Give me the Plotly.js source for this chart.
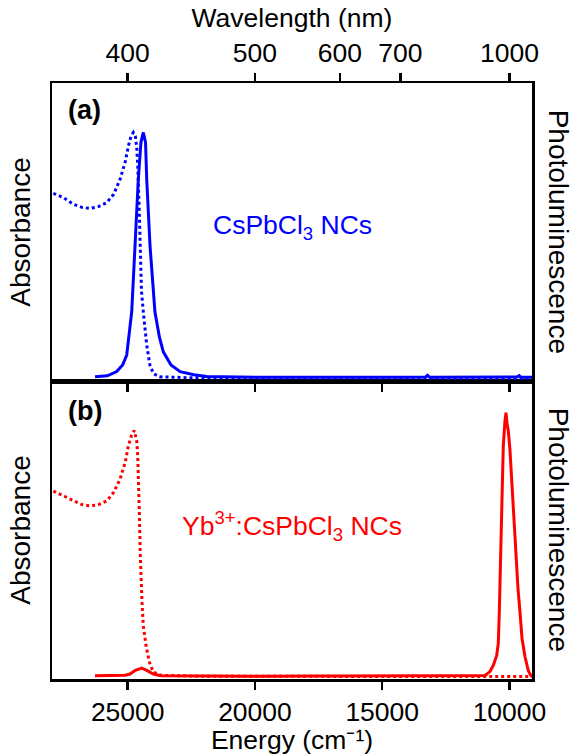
<!DOCTYPE html>
<html>
<head>
<meta charset="utf-8">
<script src="https://cdn.plot.ly/plotly-3.0.1.min.js"></script>
<style>html,body{margin:0;padding:0;background:#fff;}#chart{width:574px;height:755px;}</style>
</head>
<body>
<div id="chart"></div>
<script>
// ---- Data (energy in cm^-1, normalized intensities) ----
// (a) CsPbCl3 NCs – absorbance (dotted)
const absA_E = [27923, 27500, 27137, 26800, 26481, 26150, 25825, 25550, 25303, 25100, 24976, 24870, 24780, 24700, 24646, 24600, 24544, 24505, 24460, 24387, 24253, 24130, 23990, 23750, 22500, 9115];
const absA_V = [0.754, 0.735, 0.71, 0.697, 0.693, 0.70, 0.716, 0.75, 0.81, 0.88, 0.944, 0.985, 1.0, 0.985, 0.94, 0.85, 0.676, 0.48, 0.36, 0.274, 0.14, 0.06, 0.025, 0.012, 0.008, 0.006];
// (a) CsPbCl3 NCs – photoluminescence (solid)
const plA_E = [26285, 25800, 25432, 25200, 25039, 24843, 24713, 24584, 24480, 24387, 24300, 24253, 24124, 23930, 23750, 23601, 23300, 22941, 22400, 21896, 20000, 17000, 14000, 13300, 13220, 13140, 11000, 9700, 9620, 9540, 9115];
const plA_V = [0.012, 0.016, 0.033, 0.06, 0.1, 0.274, 0.542, 0.81, 0.96, 1.0, 0.96, 0.81, 0.542, 0.274, 0.17, 0.113, 0.06, 0.033, 0.02, 0.013, 0.01, 0.009, 0.01, 0.011, 0.018, 0.01, 0.009, 0.011, 0.017, 0.01, 0.01];
// (b) Yb3+:CsPbCl3 NCs – absorbance (dotted)
const absB_E = [27923, 27500, 27137, 26800, 26481, 26150, 25825, 25550, 25303, 25100, 24976, 24850, 24741, 24646, 24607, 24584, 24544, 24505, 24477, 24438, 24387, 24281, 24150, 23994, 23700, 22000, 9115];
const absB_V = [0.755, 0.735, 0.715, 0.70, 0.695, 0.70, 0.715, 0.75, 0.803, 0.87, 0.937, 0.98, 1.0, 0.957, 0.897, 0.83, 0.668, 0.493, 0.40, 0.305, 0.21, 0.13, 0.063, 0.023, 0.01, 0.006, 0.005];
// (b) Yb3+:CsPbCl3 NCs – photoluminescence (solid)
const plB_E = [26285, 25600, 25100, 24910, 24700, 24450, 24250, 23994, 23700, 20000, 15000, 11200, 10962, 10766, 10636, 10502, 10439, 10400, 10353, 10306, 10243, 10176, 10137, 10098, 10046, 9980, 9913, 9783, 9665, 9587, 9508, 9390, 9261, 9194, 9127];
const plB_V = [0.008, 0.008, 0.01, 0.015, 0.03, 0.039, 0.03, 0.015, 0.008, 0.006, 0.006, 0.006, 0.009, 0.025, 0.05, 0.09, 0.14, 0.265, 0.47, 0.668, 0.937, 1.04, 1.072, 1.03, 0.998, 0.92, 0.803, 0.534, 0.36, 0.265, 0.16, 0.085, 0.029, 0.015, 0.004];

// axis ticks
const energyTicks = [25000, 20000, 15000, 10000];
const wavelengthTicks = [400, 500, 600, 700, 1000];

const xRange = [27975, 9115];
const yRange = [-0.005, 1.2];
const BLUE = '#0000ff', RED = '#ff0000';
const FONT = 'Arial, "Liberation Sans", sans-serif';
const TXT = 26.5, TICK = 26.5, SIDE = 28;

const traces = [
  {x: absA_E, y: absA_V, xaxis: 'x3', yaxis: 'y2', mode: 'lines', line: {color: BLUE, width: 3, dash: '3px,3px'}, hoverinfo: 'skip'},
  {x: plA_E, y: plA_V, xaxis: 'x2', yaxis: 'y2', mode: 'lines', line: {color: BLUE, width: 3}, hoverinfo: 'skip'},
  {x: absB_E, y: absB_V, xaxis: 'x', yaxis: 'y', mode: 'lines', line: {color: RED, width: 3, dash: '3px,3px'}, hoverinfo: 'skip'},
  {x: plB_E, y: plB_V, xaxis: 'x', yaxis: 'y', mode: 'lines', line: {color: RED, width: 3}, hoverinfo: 'skip'}
];

const axLine = {showline: true, linecolor: '#000', linewidth: 2.5, showgrid: false, zeroline: false};
const tickStyle = {ticks: 'outside', ticklen: 8, tickwidth: 2.5, tickcolor: '#000'};

const layout = {
  width: 574, height: 755,
  margin: {l: 52, r: 42, t: 83, b: 76, pad: 0},
  paper_bgcolor: '#fff', plot_bgcolor: '#fff',
  showlegend: false,
  font: {family: FONT, size: TXT, color: '#000'},
  xaxis: Object.assign({}, axLine, tickStyle, {
    domain: [0, 1], anchor: 'y', range: xRange, mirror: true,
    tickvals: energyTicks, ticktext: energyTicks.map(String),
    tickfont: {size: TICK},
    title: {text: 'Energy (cm\u207B\u00B9)', font: {size: TXT}, standoff: 6}
  }),
  xaxis2: Object.assign({}, axLine, tickStyle, {
    domain: [0, 1], anchor: 'y2', range: xRange, mirror: true,
    tickvals: energyTicks, showticklabels: false
  }),
  xaxis3: Object.assign({}, axLine, tickStyle, {
    overlaying: 'x2', anchor: 'y2', side: 'top', range: xRange,
    tickvals: wavelengthTicks.map(l => 1e7 / l), ticktext: wavelengthTicks.map(String),
    tickfont: {size: TICK},
    title: {text: 'Wavelength (nm)', font: {size: TXT}, standoff: 3}
  }),
  yaxis: Object.assign({}, axLine, {
    domain: [0, 0.5], anchor: 'x', range: yRange, mirror: true,
    ticks: '', showticklabels: false,
    title: {text: 'Absorbance', font: {size: SIDE}, standoff: 11}
  }),
  yaxis2: Object.assign({}, axLine, {
    domain: [0.5, 1], anchor: 'x2', range: yRange, mirror: true,
    ticks: '', showticklabels: false,
    title: {text: 'Absorbance', font: {size: SIDE}, standoff: 11}
  }),
  annotations: [
    {xref: 'paper', yref: 'paper', x: 1.057, y: 0.75, text: 'Photoluminescence', textangle: 90, showarrow: false, font: {size: SIDE}, xanchor: 'center', yanchor: 'middle'},
    {xref: 'paper', yref: 'paper', x: 1.057, y: 0.25, text: 'Photoluminescence', textangle: 90, showarrow: false, font: {size: SIDE}, xanchor: 'center', yanchor: 'middle'},
    {xref: 'paper', yref: 'paper', x: 0.0667, y: 0.9547, text: '<b>(a)</b>', showarrow: false, font: {size: 27}, xanchor: 'center', yanchor: 'middle'},
    {xref: 'paper', yref: 'paper', x: 0.0687, y: 0.4497, text: '<b>(b)</b>', showarrow: false, font: {size: 27}, xanchor: 'center', yanchor: 'middle'},
    {xref: 'paper', yref: 'paper', x: 0.5, y: 0.759, text: 'CsPbCl<sub>3</sub> NCs', showarrow: false, font: {size: TXT, color: BLUE}, xanchor: 'center', yanchor: 'middle'},
    {xref: 'paper', yref: 'paper', x: 0.5, y: 0.256, text: 'Yb<sup>3+</sup>:CsPbCl<sub>3</sub> NCs', showarrow: false, font: {size: TXT, color: RED}, xanchor: 'center', yanchor: 'middle'}
  ]
};

Plotly.newPlot('chart', traces, layout, {staticPlot: true, displayModeBar: false});
</script>
</body>
</html>
